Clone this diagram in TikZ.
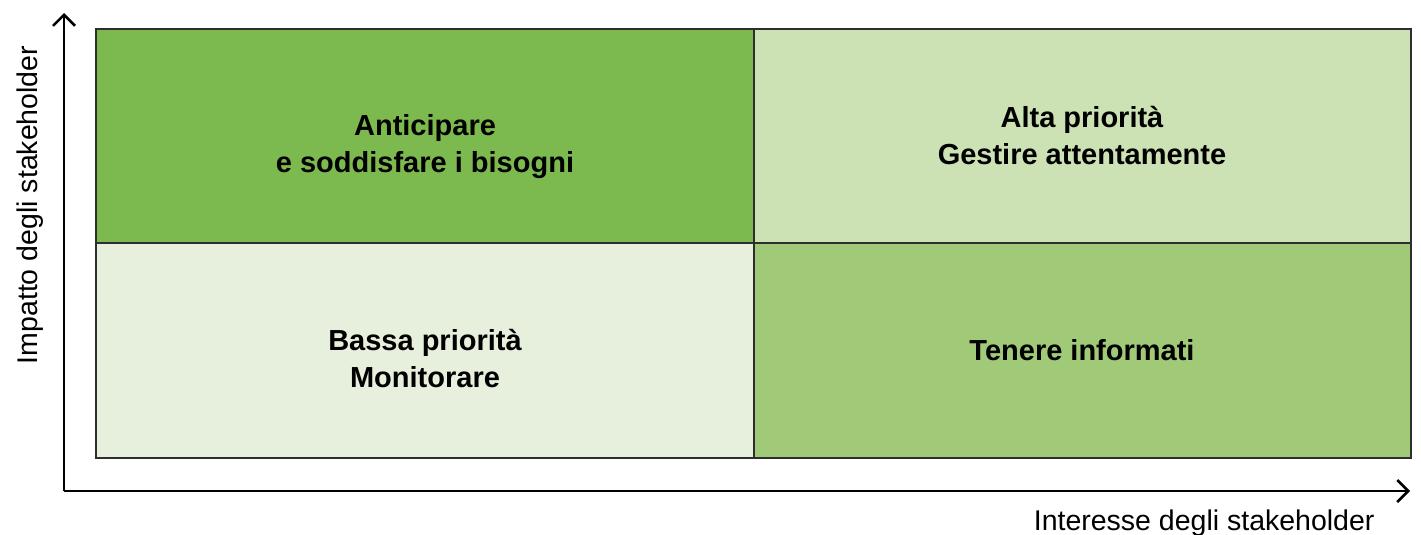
\documentclass[tikz,border=0pt]{standalone}
\usepackage{fontspec}
\setmainfont{Liberation Sans}
\usetikzlibrary{arrows.meta}
\definecolor{cA}{HTML}{7CB94E}
\definecolor{cB}{HTML}{CDE2B4}
\definecolor{cC}{HTML}{E7EFDD}
\definecolor{cD}{HTML}{A0CA78}
\definecolor{edge}{HTML}{2E2E2E}
\tikzset{
  quad/.style={draw=edge, line width=2pt},
  qtext/.style={align=center, font=\fontsize{29}{37}\selectfont\bfseries},
  axis/.style={line width=2.5pt, -{Straight Barb[length=11pt,width=22pt,line width=2.5pt]}},
  alabel/.style={font=\fontsize{28.5}{32}\selectfont}
}
\begin{document}
\begin{tikzpicture}[x=1pt,y=-1pt]
\useasboundingbox (0,0) rectangle (1421,535);
\fill[cA] (96,29) rectangle (754,243);
\fill[cB] (754,29) rectangle (1411,243);
\fill[cC] (96,243) rectangle (754,458);
\fill[cD] (754,243) rectangle (1411,458);
\draw[quad] (96,29) rectangle (1411,458);
\draw[quad] (754,29) -- (754,458);
\draw[quad] (96,243) -- (1411,243);
\node[qtext] (q1) at (425,147) {Anticipare\\e soddisfare i bisogni};
\node[qtext] (q2) at (1082,136) {Alta priorità\\Gestire attentamente};
\node[qtext] (q3) at (425,359) {Bassa priorità\\Monitorare};
\node[qtext] (q4) at (1082,350) {Tenere informati};
\coordinate (o) at (64,491);
\coordinate (ytip) at (64,13);
\coordinate (xtip) at (1410,491);
\draw[axis] (o) -- (ytip);
\draw[axis] (o) -- (xtip);
\node[alabel, anchor=base east] (xl) at (1378,530) {Interesse degli stakeholder};
\node[alabel, rotate=90, anchor=base] (yl) at (37,205) {Impatto degli stakeholder};
\end{tikzpicture}
\end{document}
